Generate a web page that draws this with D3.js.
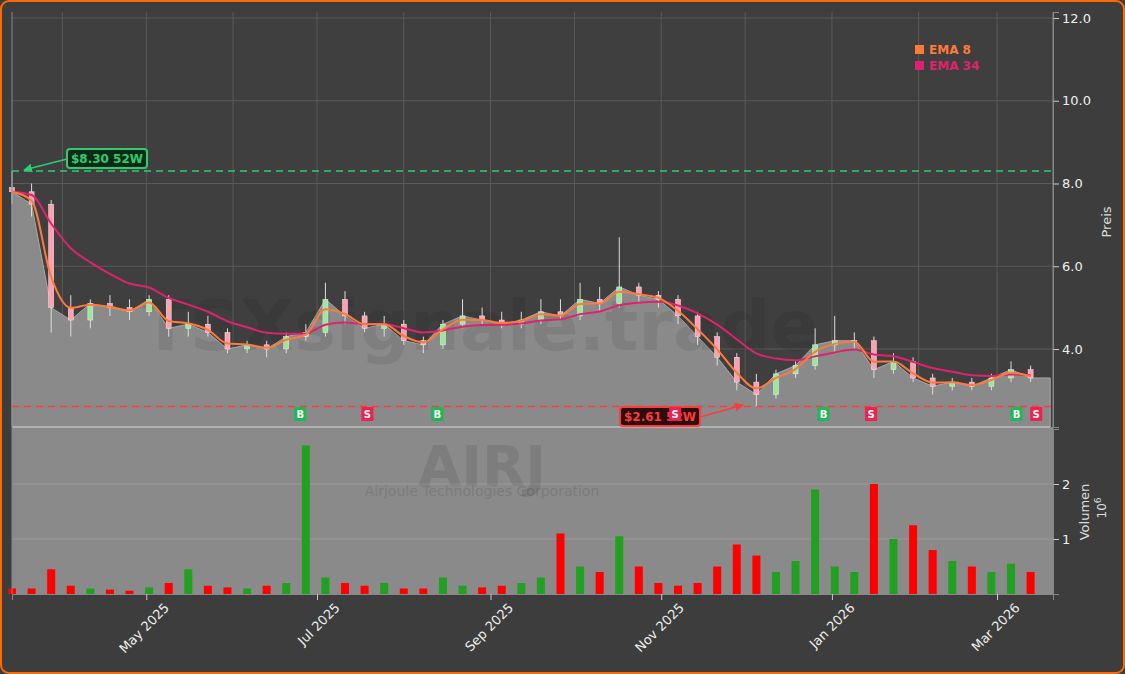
<!DOCTYPE html><html><head><meta charset="utf-8">
<script src="https://cdn.jsdelivr.net/npm/d3@7"></script>
<style>body{margin:0;background:#3d3d3d;}svg{display:block}</style></head><body>
<script>
const dates=["2025-03-14","2025-03-21","2025-03-28","2025-04-04","2025-04-11","2025-04-18","2025-04-25","2025-05-02","2025-05-09","2025-05-16","2025-05-23","2025-05-30","2025-06-06","2025-06-13","2025-06-20","2025-06-27","2025-07-04","2025-07-11","2025-07-18","2025-07-25","2025-08-01","2025-08-08","2025-08-15","2025-08-22","2025-08-29","2025-09-05","2025-09-12","2025-09-19","2025-09-26","2025-10-03","2025-10-10","2025-10-17","2025-10-24","2025-10-31","2025-11-07","2025-11-14","2025-11-21","2025-11-28","2025-12-05","2025-12-12","2025-12-19","2025-12-26","2026-01-02","2026-01-09","2026-01-16","2026-01-23","2026-01-30","2026-02-06","2026-02-13","2026-02-20","2026-02-27","2026-03-06","2026-03-13"];
const open=[7.9,7.8,7.5,5.0,4.7,5.1,5.0,4.9,5.2,4.5,4.6,4.4,4.0,4.1,4.0,4.3,4.4,5.2,4.8,4.5,4.6,4.2,4.1,4.6,4.8,4.7,4.6,4.7,4.9,4.8,5.2,5.1,5.5,5.3,5.2,4.8,4.3,3.8,3.2,2.9,3.4,3.6,4.1,4.2,4.2,3.5,3.7,3.3,3.1,3.2,3.1,3.3,3.5];
const high=[8.3,8.0,7.6,5.3,5.2,5.3,5.2,5.3,5.3,4.9,4.8,4.5,4.2,4.2,4.4,4.6,5.6,5.4,4.9,4.8,4.7,4.3,4.7,5.2,5.0,4.9,4.9,5.2,5.2,5.6,5.5,6.7,5.6,5.4,5.3,4.9,4.4,3.9,3.4,3.5,3.7,4.5,4.8,4.4,4.3,3.9,3.8,3.4,3.3,3.3,3.4,3.7,3.6];
const low=[7.5,7.2,4.4,4.3,4.5,4.8,4.7,4.8,4.3,4.3,4.3,3.9,3.9,3.8,3.9,4.2,4.3,4.6,4.4,4.3,4.1,3.9,4.0,4.5,4.6,4.5,4.5,4.6,4.7,4.7,4.9,5.0,5.1,5.0,4.6,4.1,3.6,3.0,2.61,2.8,3.3,3.5,3.9,4.0,3.3,3.4,3.2,2.9,3.0,3.0,3.0,3.2,3.2];
const close=[7.8,7.5,5.0,4.7,5.1,5.0,4.9,5.2,4.5,4.6,4.4,4.0,4.1,4.0,4.3,4.4,5.2,4.8,4.5,4.6,4.2,4.1,4.6,4.8,4.7,4.6,4.7,4.9,4.8,5.2,5.1,5.5,5.3,5.2,4.8,4.3,3.8,3.2,2.9,3.4,3.6,4.1,4.2,4.2,3.5,3.7,3.3,3.1,3.2,3.1,3.3,3.5,3.3];
const volume=[0.1,0.1,0.45,0.15,0.1,0.08,0.06,0.12,0.2,0.45,0.15,0.12,0.1,0.15,0.2,2.7,0.3,0.2,0.15,0.2,0.1,0.1,0.3,0.15,0.12,0.15,0.2,0.3,1.1,0.5,0.4,1.05,0.5,0.2,0.15,0.2,0.5,0.9,0.7,0.4,0.6,1.9,0.5,0.4,2.0,1.0,1.25,0.8,0.6,0.5,0.4,0.55,0.4];
const signals=[["2025-06-25","B"],["2025-07-19","S"],["2025-08-13","B"],["2025-11-06","S"],["2025-12-29","B"],["2026-01-15","S"],["2026-03-08","B"],["2026-03-15","S"]];
const priceTicks=[4,6,8,10,12];
const volTicks=[1,2];
const monthTicks=["2025-05-01","2025-07-01","2025-09-01","2025-11-01","2026-01-01","2026-03-01"];
const high52=8.30, low52=2.61;

const W=1125,H=674,pd=d3.timeParse("%Y-%m-%d");
const D=dates.map(pd);
const svg=d3.select("body").append("svg").attr("width",W).attr("height",H);
svg.append("rect").attr("x",1).attr("y",1).attr("width",W-2).attr("height",H-2).attr("rx",8).attr("fill","#3d3d3d").attr("stroke","#ff6a00").attr("stroke-width",2);
const L=12,R=1053,T=12,PB=427,VT=429,VB=594;
const x=d3.scaleTime().domain([pd("2025-03-14"),pd("2026-03-21")]).range([L,R]);
const y=d3.scaleLinear().domain([2.115,12.145]).range([PB,T]);
const yv=d3.scaleLinear().domain([0,3]).range([VB,VT]);
const g=svg.append("g");
g.append("rect").attr("x",L).attr("y",T).attr("width",R-L).attr("height",VB-T).attr("fill","#3f3f3f");
d3.timeMonth.range(pd("2025-04-01"),pd("2026-04-01")).forEach(m=>g.append("line").attr("x1",x(m)).attr("x2",x(m)).attr("y1",T).attr("y2",VB).attr("stroke","#5a5a5a"));
priceTicks.forEach(p=>g.append("line").attr("x1",L).attr("x2",R).attr("y1",y(p)).attr("y2",y(p)).attr("stroke","#5a5a5a"));
const ad=D.map((d,i)=>[d,close[i]]);ad.push([pd("2026-03-20"),close[close.length-1]]);
g.append("path").datum(ad).attr("fill","#8a8a8a").attr("stroke","#a8a8a8").attr("d",d3.area().x(d=>x(d[0])).y0(PB).y1(d=>y(d[1])));
g.append("rect").attr("x",L).attr("y",PB).attr("width",R-L).attr("height",VB-PB).attr("fill","#8a8a8a");
volTicks.forEach(v=>g.append("line").attr("x1",L).attr("x2",R).attr("y1",yv(v)).attr("y2",yv(v)).attr("stroke","#999"));
g.append("line").attr("x1",L).attr("x2",1050).attr("y1",PB).attr("y2",PB).attr("stroke","#b0b0b0").attr("stroke-width",2);
g.append("text").attr("x",480).attr("y",350).attr("text-anchor","middle").attr("font-family","DejaVu Sans").attr("font-weight","bold").attr("font-size",70).attr("fill","#000").attr("opacity",0.07).text("TSXsignale.trade");
g.append("text").attr("x",482).attr("y",485).attr("text-anchor","middle").attr("font-family","DejaVu Sans").attr("font-weight","bold").attr("font-size",56).attr("fill","#000").attr("opacity",0.09).text("AIRJ");
g.append("text").attr("x",482).attr("y",496).attr("text-anchor","middle").attr("font-family","DejaVu Sans").attr("font-size",14).attr("fill","#000").attr("opacity",0.1).text("Airjoule Technologies Corporation");
D.forEach((d,i)=>g.append("rect").attr("x",x(d)-4).attr("width",8).attr("y",yv(volume[i])).attr("height",VB-yv(volume[i])).attr("fill",close[i]>=open[i]?"#22a022":"#f00"));
g.append("line").attr("x1",L).attr("x2",R).attr("y1",y(high52)).attr("y2",y(high52)).attr("stroke","#2ecc71").attr("stroke-dasharray","7,5").attr("stroke-width",1.5);
g.append("line").attr("x1",L).attr("x2",R).attr("y1",y(low52)).attr("y2",y(low52)).attr("stroke","#ff3b3b").attr("stroke-dasharray","7,5").attr("stroke-width",1.5);
D.forEach((d,i)=>{const up=close[i]>=open[i],c=up?"#9be89b":"#ff9fb0";
g.append("line").attr("x1",x(d)).attr("x2",x(d)).attr("y1",y(high[i])).attr("y2",y(low[i])).attr("stroke","#ddd").attr("stroke-width",1);
g.append("rect").attr("x",x(d)-2.5).attr("width",5).attr("y",y(Math.max(open[i],close[i]))).attr("height",Math.max(1,Math.abs(y(open[i])-y(close[i])))).attr("fill",c).attr("stroke","#eee").attr("stroke-width",0.5);});
function ema(n){const a=1-Math.pow(1-2/(n+1),5);let e=close[0];return close.map(c=>e=e+a*(c-e));}
const e8=ema(8),e34=ema(34);
const ln=d3.line().x((d,i)=>x(D[i])).y(d=>y(d)).curve(d3.curveMonotoneX);
g.append("path").datum(e34).attr("fill","none").attr("stroke","#e0226e").attr("stroke-width",2).attr("d",ln);
g.append("path").datum(e8).attr("fill","none").attr("stroke","#ff7a3a").attr("stroke-width",2).attr("d",ln);
const defs=svg.append("defs");
["2ecc71","ff3b3b"].forEach(c=>defs.append("marker").attr("id","m"+c).attr("viewBox","0 0 10 10").attr("refX",9).attr("refY",5).attr("markerWidth",6).attr("markerHeight",6).attr("orient","auto").append("path").attr("d","M0,0L10,5L0,10z").attr("fill","#"+c));
function lab(tx,xx,yy,col,bg,ax,ay){
g.append("rect").attr("x",xx).attr("y",yy-10).attr("width",80).attr("height",19).attr("rx",3).attr("fill",bg).attr("stroke",col).attr("stroke-width",2);
g.append("text").attr("x",xx+40).attr("y",yy+4).attr("text-anchor","middle").attr("fill",col).attr("font-family","DejaVu Sans").attr("font-weight","bold").attr("font-size",12).text(tx);
g.append("line").attr("x1",xx+(ax<xx?0:80)).attr("y1",yy).attr("x2",ax).attr("y2",ay).attr("stroke",col).attr("stroke-width",1.5).attr("marker-end","url(#m"+col.slice(1)+")");}
lab("$8.30 52W",67,159,"#2ecc71","#0d2a17",24,170);
lab("$2.61 52W",620,417,"#ff3b3b","#2a0d0d",743,405);
signals.forEach(([ds,t])=>{const xx=x(pd(ds));const col=t=="B"?"#1db954":"#f0204f";
g.append("rect").attr("x",xx-6).attr("y",407).attr("width",12).attr("height",14).attr("fill",col);
g.append("text").attr("x",xx).attr("y",418).attr("text-anchor","middle").attr("fill","#fff").attr("font-family","DejaVu Sans").attr("font-weight","bold").attr("font-size",10).text(t);});
[["EMA 8","#ff7a3a",54],["EMA 34","#e0226e",70]].forEach(([t,c,yy])=>{g.append("rect").attr("x",915).attr("y",yy-9).attr("width",9).attr("height",9).attr("fill",c);
g.append("text").attr("x",929).attr("y",yy).attr("fill",c).attr("font-family","DejaVu Sans").attr("font-weight","bold").attr("font-size",12).text(t);});
const ap=svg.append("g").attr("transform",`translate(${R},0)`).call(d3.axisRight(y).tickValues(priceTicks).tickFormat(d3.format(".1f")));
const av=svg.append("g").attr("transform",`translate(${R},0)`).call(d3.axisRight(yv).tickValues(volTicks).tickFormat(d3.format("d")));
const ax=svg.append("g").attr("transform",`translate(0,${VB})`).call(d3.axisBottom(x).tickValues(monthTicks.map(pd)).tickFormat(d3.timeFormat("%b %Y")));
ax.selectAll("text").attr("transform","translate(14,0) rotate(-45)").attr("text-anchor","end").attr("dx","-0.3em").attr("dy","0.6em");
[ap,av,ax].forEach(a=>{a.selectAll("text").attr("fill","#eee").attr("font-family","DejaVu Sans").attr("font-size",13);a.selectAll("line").attr("stroke","#ccc");a.select(".domain").attr("stroke","#888");});
svg.append("line").attr("x1",R).attr("x2",R).attr("y1",T).attr("y2",VB).attr("stroke","#888");
svg.append("line").attr("x1",L).attr("x2",L).attr("y1",T).attr("y2",VB).attr("stroke","#888");
svg.append("text").attr("transform","translate(1111,222)rotate(-90)").attr("text-anchor","middle").attr("fill","#ddd").attr("font-family","DejaVu Sans").attr("font-size",13).text("Preis");
svg.append("text").attr("transform","translate(1089,512)rotate(-90)").attr("text-anchor","middle").attr("fill","#ddd").attr("font-family","DejaVu Sans").attr("font-size",13).text("Volumen");
svg.append("text").attr("transform","translate(1106,508)rotate(-90)").attr("text-anchor","middle").attr("fill","#ddd").attr("font-family","DejaVu Sans").attr("font-size",12).html("10<tspan dy='-5' font-size='9'>6</tspan>");
</script></body></html>
